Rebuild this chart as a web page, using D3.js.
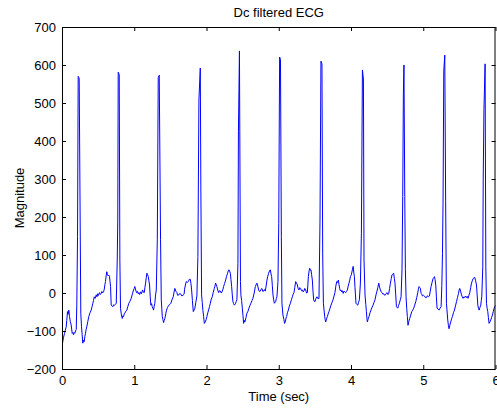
<!DOCTYPE html>
<html><head><meta charset="utf-8">
<script src="https://cdn.jsdelivr.net/npm/d3@7"></script>
<style>body{margin:0;background:#fff}svg{display:block}text{font-family:"Liberation Sans",Arial,sans-serif;fill:#000}</style>
</head><body><svg id="c" width="497" height="408"></svg>
<script>
const title = "Dc filtered ECG";
const xLabel = "Time (sec)";
const yLabel = "Magnitude";
const xTicks = [0,1,2,3,4,5,6];
const yTicks = [-200,-100,0,100,200,300,400,500,600,700];
const time = [0.000,0.004,0.011,0.020,0.035,0.046,0.058,0.066,0.076,0.085,0.094,0.104,0.115,0.127,0.141,0.150,0.159,0.168,0.177,0.187,0.197,0.205,0.215,0.224,0.238,0.252,0.260,0.270,0.279,0.288,0.297,0.307,0.316,0.325,0.334,0.343,0.357,0.371,0.388,0.404,0.416,0.427,0.436,0.446,0.460,0.474,0.484,0.492,0.500,0.510,0.520,0.530,0.543,0.552,0.560,0.575,0.585,0.594,0.602,0.611,0.620,0.630,0.640,0.649,0.658,0.665,0.672,0.681,0.692,0.704,0.715,0.727,0.740,0.751,0.765,0.772,0.778,0.792,0.801,0.810,0.820,0.834,0.843,0.852,0.862,0.870,0.884,0.898,0.912,0.925,0.940,0.958,0.975,0.990,1.000,1.008,1.020,1.032,1.045,1.055,1.064,1.075,1.087,1.100,1.115,1.127,1.139,1.148,1.157,1.166,1.175,1.185,1.194,1.203,1.212,1.221,1.230,1.240,1.249,1.258,1.267,1.276,1.285,1.295,1.305,1.319,1.332,1.346,1.364,1.374,1.381,1.388,1.397,1.406,1.415,1.424,1.436,1.447,1.460,1.479,1.493,1.507,1.522,1.540,1.550,1.562,1.575,1.590,1.600,1.618,1.630,1.645,1.660,1.679,1.690,1.697,1.708,1.720,1.734,1.748,1.762,1.776,1.785,1.794,1.805,1.817,1.828,1.839,1.852,1.867,1.881,1.895,1.914,1.922,1.932,1.941,1.950,1.960,1.970,1.983,1.995,2.006,2.018,2.029,2.041,2.053,2.066,2.080,2.094,2.108,2.117,2.126,2.135,2.144,2.155,2.168,2.180,2.191,2.205,2.219,2.228,2.237,2.250,2.265,2.278,2.292,2.301,2.310,2.320,2.330,2.339,2.348,2.357,2.366,2.375,2.385,2.394,2.403,2.412,2.421,2.435,2.442,2.456,2.470,2.476,2.486,2.496,2.505,2.514,2.523,2.532,2.546,2.560,2.574,2.587,2.601,2.615,2.629,2.643,2.660,2.676,2.687,2.698,2.710,2.722,2.733,2.745,2.756,2.767,2.779,2.791,2.802,2.814,2.825,2.837,2.848,2.860,2.872,2.884,2.893,2.902,2.911,2.920,2.930,2.939,2.948,2.957,2.966,2.975,2.989,3.000,3.012,3.024,3.036,3.044,3.058,3.072,3.080,3.091,3.100,3.109,3.120,3.133,3.147,3.161,3.175,3.188,3.200,3.211,3.222,3.234,3.246,3.258,3.268,3.280,3.290,3.303,3.315,3.327,3.338,3.349,3.360,3.373,3.385,3.396,3.410,3.420,3.428,3.437,3.446,3.455,3.465,3.474,3.483,3.492,3.501,3.515,3.529,3.543,3.557,3.571,3.584,3.598,3.608,3.618,3.627,3.636,3.643,3.650,3.662,3.673,3.684,3.695,3.710,3.723,3.737,3.751,3.765,3.778,3.790,3.802,3.814,3.825,3.834,3.843,3.852,3.861,3.872,3.881,3.892,3.903,3.915,3.927,3.938,3.950,3.961,3.972,3.983,3.992,4.005,4.019,4.030,4.040,4.047,4.055,4.062,4.069,4.080,4.093,4.104,4.116,4.130,4.144,4.158,4.172,4.180,4.194,4.205,4.213,4.222,4.227,4.238,4.249,4.263,4.277,4.291,4.305,4.318,4.332,4.346,4.360,4.372,4.384,4.395,4.407,4.418,4.429,4.441,4.453,4.465,4.476,4.488,4.499,4.510,4.522,4.534,4.546,4.557,4.568,4.580,4.591,4.600,4.609,4.619,4.629,4.638,4.647,4.658,4.670,4.682,4.693,4.706,4.716,4.725,4.733,4.744,4.753,4.762,4.771,4.780,4.789,4.800,4.813,4.827,4.841,4.855,4.868,4.882,4.896,4.910,4.924,4.933,4.942,4.952,4.961,4.970,4.979,4.989,5.003,5.017,5.030,5.044,5.058,5.072,5.085,5.097,5.108,5.122,5.136,5.145,5.155,5.164,5.173,5.182,5.191,5.205,5.219,5.233,5.247,5.257,5.266,5.274,5.284,5.298,5.310,5.321,5.339,5.348,5.357,5.369,5.381,5.392,5.404,5.418,5.432,5.446,5.460,5.474,5.488,5.497,5.505,5.517,5.529,5.540,5.551,5.563,5.575,5.586,5.598,5.610,5.620,5.632,5.644,5.656,5.668,5.679,5.690,5.702,5.713,5.725,5.737,5.746,5.755,5.764,5.773,5.785,5.796,5.803,5.810,5.824,5.830,5.840,5.856,5.866,5.875,5.884,5.893,5.902,5.911,5.923,5.935,5.946,5.958,5.970,5.981,5.990,6.000];
const magnitude = [-158,-137,-128,-118,-106,-98,-89,-72,-49,-56,-45,-62,-75,-84,-106,-104,-110,-104,-106,-100,-96,-32,148,570,565,171,-53,-89,-110,-132,-124,-128,-115,-106,-96,-89,-75,-62,-52,-45,-36,-27,-20,-10,-14,-5,-10,-2,-7,-3,1,-4,-1,4,0,3,10,22,30,45,56,48,45,47,43,30,17,-32,-34,-36,-31,-32,-30,-27,92,192,581,575,87,-40,-55,-67,-60,-62,-55,-53,-48,-45,-35,-27,-22,-14,-2,8,12,17,8,1,4,-2,1,-4,3,-2,8,2,1,15,26,40,52,48,43,32,21,-10,-32,-28,-36,-40,-45,-35,-27,-5,8,140,567,573,140,-18,-40,-62,-70,-78,-72,-67,-55,-45,-38,-32,-30,-27,-18,-10,2,12,5,1,-6,-5,-1,-3,-8,-5,-3,10,21,30,28,30,36,36,25,8,-20,-49,-45,-40,-25,-8,96,508,592,271,-5,-25,-45,-62,-80,-76,-70,-62,-52,-45,-36,-27,-16,-10,2,12,18,26,22,17,8,1,6,5,0,5,10,17,25,34,44,52,58,61,58,52,35,17,-5,-23,-28,-32,-30,-27,-22,-18,78,424,637,30,-5,-20,-40,-60,-80,-72,-76,-65,-53,-48,-40,-33,-27,-20,-14,0,17,22,26,18,8,4,5,10,12,4,5,9,5,18,34,44,52,58,61,50,43,20,-5,-18,-27,-25,-23,-15,-10,30,183,621,614,148,-27,-58,-70,-80,-76,-66,-62,-52,-45,-34,-27,-18,-10,-3,1,15,30,26,21,12,8,14,12,6,8,3,5,12,8,0,1,43,58,65,60,61,48,34,5,-18,-22,-23,-14,-10,-15,-14,192,610,603,105,-27,-45,-62,-70,-76,-68,-62,-55,-49,-40,-32,-25,-18,-8,1,18,30,28,34,22,12,6,8,3,6,-1,5,3,1,4,8,18,26,34,43,48,61,70,52,43,15,-5,-27,-30,-32,-25,-18,26,157,587,563,87,-5,-30,-49,-70,-76,-68,-62,-52,-45,-38,-32,-25,-18,-5,5,15,26,16,8,3,1,-3,-2,-6,-5,-1,1,-4,-2,12,26,38,48,50,52,38,26,-5,-36,-38,-40,-33,-27,-18,-10,61,254,526,600,254,61,-10,-40,-62,-85,-75,-67,-58,-49,-45,-40,-32,-23,-12,1,10,17,14,12,-1,-3,-8,-6,-8,-12,-12,-7,-10,-8,5,17,28,38,40,43,35,21,-10,-40,-42,-45,-40,-36,20,103,242,584,626,240,-27,-71,-85,-94,-84,-76,-68,-62,-52,-45,-34,-23,-12,-1,8,12,5,-5,-10,-14,-10,-12,-8,-12,-9,-14,-6,1,14,26,32,38,40,41,32,21,-5,-32,-40,-45,-38,-32,-20,-10,69,297,482,603,69,-27,-40,-49,-65,-80,-76,-71,-64,-58,-48,-40,-36,-32];

const W = 497, H = 408;
const m = {left: 62, right: 495.5, top: 27, bottom: 369};
const svg = d3.select("#c");
const x = d3.scaleLinear().domain([0, 6]).range([m.left, m.right]);
const y = d3.scaleLinear().domain([-200, 700]).range([m.bottom, m.top]);

const pts = time.map((t, i) => [t, magnitude[i]]);
svg.append("defs").append("clipPath").attr("id","clip").append("rect")
  .attr("x", m.left).attr("y", m.top).attr("width", m.right - m.left).attr("height", m.bottom - m.top);
svg.append("path").datum(pts).attr("clip-path","url(#clip)")
  .attr("fill","none").attr("stroke","#0000ff").attr("stroke-width",1)
  .attr("d", d3.line().x(d => x(d[0])).y(d => y(d[1])));

const tl = 4;
const fs = "13px";
svg.append("g").attr("transform",`translate(0,${m.bottom})`)
  .call(d3.axisBottom(x).tickValues(xTicks).tickSize(-tl).tickPadding(7).tickFormat(d3.format("d")))
  .call(g => { g.select(".domain").remove(); g.selectAll("text").style("font-size", fs).attr("font-family",null); });
svg.append("g").attr("transform",`translate(0,${m.top})`)
  .call(d3.axisTop(x).tickValues(xTicks).tickSize(-tl).tickFormat(""))
  .call(g => g.select(".domain").remove());
svg.append("g").attr("transform",`translate(${m.left},0)`)
  .call(d3.axisLeft(y).tickValues(yTicks).tickSize(-tl).tickPadding(6).tickFormat(d3.format("d")))
  .call(g => { g.select(".domain").remove(); g.selectAll("text").style("font-size", fs).attr("font-family",null); });
svg.append("g").attr("transform",`translate(${m.right},0)`)
  .call(d3.axisRight(y).tickValues(yTicks).tickSize(-tl).tickFormat(""))
  .call(g => g.select(".domain").remove());
svg.selectAll(".tick line").attr("stroke","#000");

svg.append("rect").attr("x", m.left + 0.5).attr("y", m.top + 0.5)
  .attr("width", m.right - m.left - 1).attr("height", m.bottom - m.top)
  .attr("fill","none").attr("stroke","#000").attr("stroke-width",1);

svg.append("text").attr("x", (m.left + m.right)/2).attr("y", 17)
  .attr("text-anchor","middle").style("font-size", fs).text(title);
svg.append("text").attr("x", (m.left + m.right)/2).attr("y", 401)
  .attr("text-anchor","middle").style("font-size", fs).text(xLabel);
svg.append("text").attr("transform",`translate(24,${(m.top+m.bottom)/2}) rotate(-90)`)
  .attr("text-anchor","middle").style("font-size", fs).text(yLabel);
</script></body></html>
